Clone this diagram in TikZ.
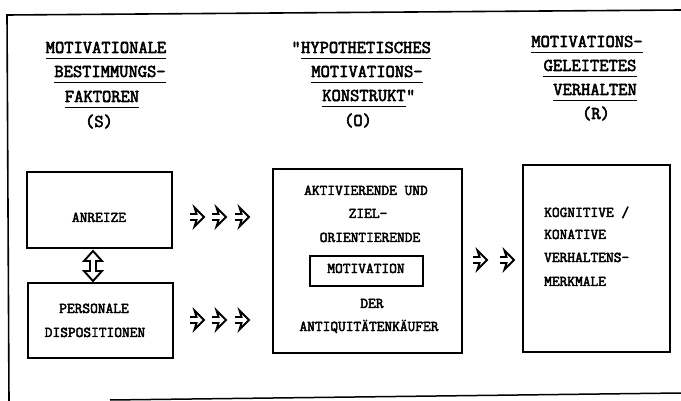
\documentclass[tikz,border=0pt]{standalone}
\usepackage{fontspec}
\newfontfamily\tw{Latin Modern Mono}[FakeBold=3]
\begin{document}
\begin{tikzpicture}[x=1pt,y=-1pt,
  hdr/.style={font=\tw\fontsize{18}{20}\selectfont, inner sep=0pt, anchor=base},
  txt/.style={font=\tw\fontsize{15}{17}\selectfont, inner sep=0pt, anchor=base},
  boxd/.style={draw, line width=1.7pt},
  arr/.style={line width=1.9pt, line join=miter},
  ul/.style={line width=1.4pt}]
\useasboundingbox (0,0) rectangle (681,401);
% outer frame
\coordinate (f1) at (7,15);
\coordinate (f2) at (681,10);
\coordinate (f3) at (9,401);
\coordinate (f4) at (110,400);
\coordinate (f5) at (681,393);
\draw[line width=1.6pt] (f3) -- (f1) -- (f2);
\draw[line width=1.5pt] (f4) -- (f5);

% headers column 1
\node[hdr] (a1) at (106,53) {MOTIVATIONALE};
\node[hdr] (a2) at (110,77) {BESTIMMUNGS-};
\node[hdr] (a3) at (102,102) {FAKTOREN};
\node[hdr] (a4) at (99,127) {(S)};
% headers column 2
\node[hdr] (b1) at (366,53) {HYPOTHETISCHES};
\node[hdr, anchor=base east] (b1q) at (b1.base west) {"};
\node[hdr] (b2) at (367,77) {MOTIVATIONS-};
\node[hdr] (b3) at (364,101) {KONSTRUKT};
\node[hdr, anchor=base west] (b3q) at (b3.base east) {"};
\node[hdr] (b4) at (358,126) {(O)};
% headers column 3
\node[hdr] (c1) at (587,47) {MOTIVATIONS-};
\node[hdr] (c2) at (590,71) {GELEITETES};
\node[hdr] (c3) at (595,95) {VERHALTEN};
\node[hdr] (c4) at (596,119) {(R)};
% underlines
\foreach \n in {a1,a2,a3,b1,b2,b3,c1,c2,c3}
  \draw[ul] ([yshift=-5pt]\n.south west) -- ([yshift=-5pt]\n.south east);

% left boxes
\draw[boxd] (27,172) rectangle (172,248);
\node[txt] (anr) at (99,222) {ANREIZE};
\draw[boxd] (28,283) rectangle (173,358);
\node[txt] (per) at (94,313) {PERSONALE};
\node[txt] (dis) at (95,337) {DISPOSITIONEN};

% middle box
\draw[boxd] (273,169) rectangle (462,353);
\node[txt] (m1) at (366,195) {AKTIVIERENDE UND};
\node[txt] (m2) at (368,218) {ZIEL-};
\node[txt] (m3) at (370,242) {ORIENTIERENDE};
\draw[boxd] (310,256) rectangle (423,286);
\node[txt] (m4) at (366,273) {MOTIVATION};
\node[txt] (m5) at (372,308) {DER};
\node[txt] (m6) at (369,331) {ANTIQUITÄTENKÄUFER};

% right box
\draw[boxd] (523,165) rectangle (670,352);
\node[txt, anchor=base west] (r1) at (544,217) {KOGNITIVE /};
\node[txt, anchor=base west] (r2) at (544,239) {KONATIVE};
\node[txt, anchor=base west] (r3) at (544,262) {VERHALTENS-};
\node[txt, anchor=base west] (r4) at (544,286) {MERKMALE};

% hollow arrows
\newcommand{\harrow}[2]{%
  \draw[arr] (#1,#2-3) -- ++(6.5,0) -- ++(-2,-6.5) -- (#1+14,#2) -- (#1+4.5,#2+9.5) -- ++(2,-6.5) -- (#1,#2+3);}
\harrow{190}{217}
\harrow{212}{217}
\harrow{235}{217}
\harrow{190}{320}
\harrow{212}{320}
\harrow{235}{320}
\harrow{473}{260}
\harrow{500}{260}

% vertical double arrow
\draw[arr] (90,261) -- (84,261) -- (93,251) -- (102,261) -- (96,261) -- (96,271) -- (102,271) -- (93,281) -- (84,271) -- (90,271) -- cycle;
\end{tikzpicture}
\end{document}
